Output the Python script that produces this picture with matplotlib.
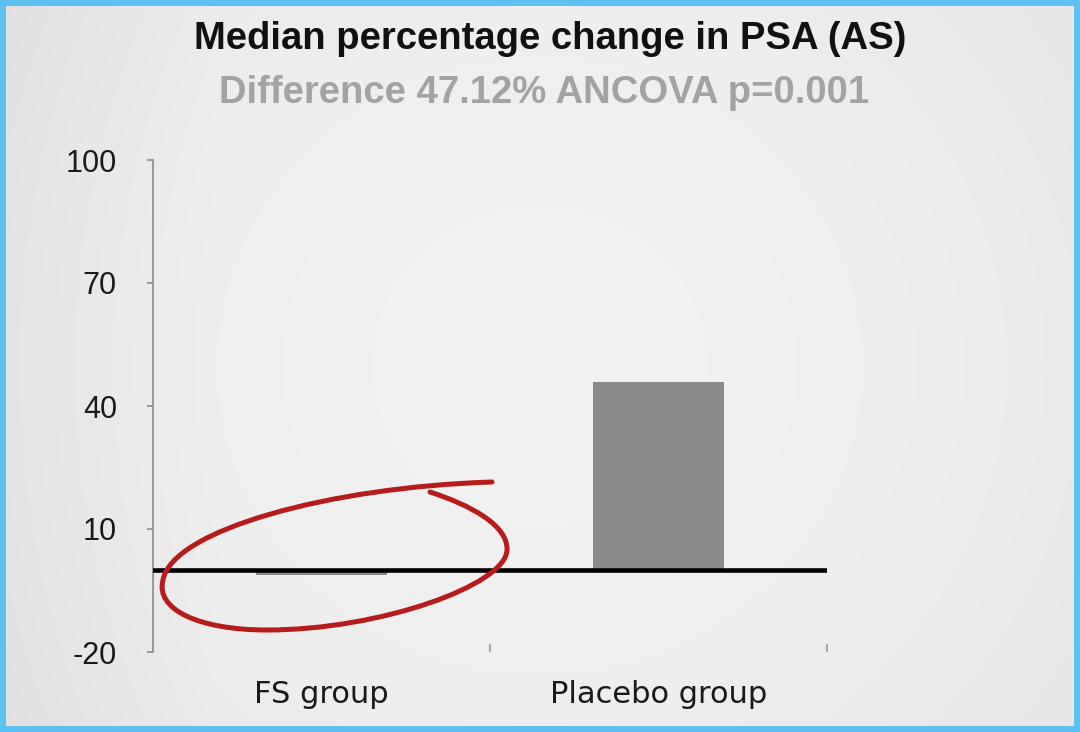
import numpy as np
import matplotlib
matplotlib.use("Agg")
import matplotlib.pyplot as plt
from matplotlib.path import Path
from matplotlib.patches import PathPatch, Rectangle

# Data
categories = ["FS group", "Placebo group"]
median_change = [-1.2, 45.9]
y_ticks = [100, 70, 40, 10, -20]
y_tick_labels = ["100", "70", "40", "10", "-20"]
title = "Median percentage change in PSA (AS)"
subtitle = "Difference 47.12% ANCOVA p=0.001"

W, H, DPI = 1080, 732, 100
fig = plt.figure(figsize=(W / DPI, H / DPI), dpi=DPI)

# Slide background: soft grey with a lighter centre
bg = fig.add_axes([0, 0, 1, 1])
bg.set_axis_off()
xx = np.linspace(-1, 1, 400)
yy = np.linspace(-1, 1, 300)
X, Y = np.meshgrid(xx, yy)
shade = 0.948 - 0.03 * (X ** 2) - 0.015 * (Y ** 2) - 0.015 * (X < -0.6) * (-0.6 - X) * 4
bg.imshow(np.dstack([shade] * 3), extent=[0, 1, 0, 1], aspect="auto",
          interpolation="bilinear", zorder=0)
bg.set_xlim(0, 1)
bg.set_ylim(0, 1)

# Blue frame
bw = 6
for rect in [(0, 0, W, bw), (0, H - bw, W, bw), (0, 0, bw, H), (W - bw, 0, bw, H)]:
    bg.add_patch(Rectangle((rect[0] / W, rect[1] / H), rect[2] / W, rect[3] / H,
                           color="#5cc1f0", zorder=5, lw=0))

# Titles
fig.text(550 / W, 1 - 39 / H, title, ha="center", va="center",
         fontsize=27.5, fontweight="bold", color="#111111",
         family=["Liberation Sans Narrow", "Liberation Sans"])
fig.text(544 / W, 1 - 93 / H, subtitle, ha="center", va="center",
         fontsize=27.5, fontweight="bold", color="#a3a3a3",
         family=["Liberation Sans Narrow", "Liberation Sans"])

# Chart area
x0, x1 = 153, 827
ytop, ybot = 160, 652
ax = fig.add_axes([x0 / W, 1 - ybot / H, (x1 - x0) / W, (ybot - ytop) / H])
ax.patch.set_alpha(0)
ax.set_xlim(-0.5, 1.5)
ax.set_ylim(-20, 100)

xpos = np.arange(len(categories))
ax.bar(xpos, median_change, width=0.39, color="#8a8a8a", zorder=2)
ax.axhline(0, color="black", lw=3.3, zorder=3)

for s in ["top", "right", "bottom"]:
    ax.spines[s].set_visible(False)
ax.spines["left"].set_color("#8c8c8c")
ax.spines["left"].set_linewidth(1.2)

ax.set_yticks(y_ticks)
ax.set_yticklabels(y_tick_labels, family="Liberation Sans", fontsize=22, color="#1a1a1a")
ax.tick_params(axis="y", direction="out", length=4, width=1.2, color="#8c8c8c", pad=22)

ax.set_xticks(xpos)
ax.set_xticklabels(categories, family="DejaVu Sans", fontsize=22, color="#1a1a1a")
ax.tick_params(axis="x", length=0, pad=20)
ax.set_xticks([0.5, 1.5], minor=True)
ax.tick_params(axis="x", which="minor", direction="in", length=6, width=1.2, color="#9a9a9a")

# Hand-drawn red loop around the FS group bar (pixel coordinates, y downward)
pts = [(430, 492),
       (470, 505), (508, 525), (507, 550),
       (506, 585), (380, 630), (267, 630),
       (200, 630), (155, 610), (163, 580),
       (172, 530), (330, 487), (492, 482)]
codes = [Path.MOVETO] + [Path.CURVE4] * 12
verts = [(px / W, 1 - py / H) for px, py in pts]
loop = PathPatch(Path(verts, codes), transform=fig.transFigure, facecolor="none",
                 edgecolor="#b71c1c", lw=3.6, capstyle="round", zorder=10)
fig.patches.append(loop)

fig.savefig("out.png", dpi=DPI)
